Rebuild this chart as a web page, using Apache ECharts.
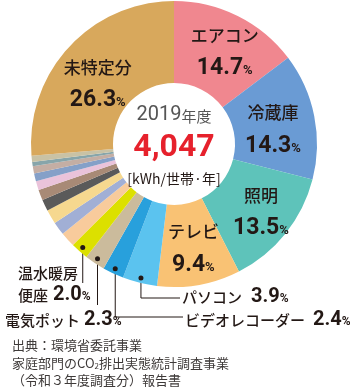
<!DOCTYPE html>
<html><head><meta charset="utf-8">
<script src="https://cdn.jsdelivr.net/npm/echarts@6/dist/echarts.min.js"></script>
<style>html,body{margin:0;padding:0;background:#fff}#c{width:350px;height:390px}</style>
</head><body><div id="c"></div>
<script>
// ---- data ----
const categories = ['エアコン','冷蔵庫','照明','テレビ','パソコン','ビデオレコーダー','電気ポット','温水暖房便座',
  'その他1','その他2','その他3','その他4','その他5','その他6','その他7','その他8','その他9','その他10','未特定分'];
const labelNames = ['エアコン','冷蔵庫','照明','テレビ','パソコン','ビデオレコーダー','電気ポット','温水暖房\n便座',
  '','','','','','','','','','','未特定分'];
const values = [14.7,14.3,13.5,9.4,3.9,2.4,2.3,2.0,1.7,1.5,1.6,1.3,1.2,1.0,0.9,0.8,0.5,0.7,26.3];
const totalYear = '2019';
const totalValue = '4,047';
const totalUnit = '[kWh/世帯·年]';
const sourceLines = ['出典：環境省委託事業','家庭部門のCO','排出実態統計調査事業','（令和３年度調査分）報告書'];

// ---- styles ----
const colors = ['#f0878f','#6a9bd4','#5ec3ba','#f9c274','#5bc3ef','#28a0dc','#cbbb9c','#dce000',
  '#f8cb9c','#a1afd5','#f6d88f','#5a5a5a','#a88a76','#eac3da','#85a0c8','#c4aea4','#87a5aa','#c9c2a5','#d8a85c'];
const JP = "'Noto Sans CJK JP', sans-serif";
const NUM = "Roboto, 'Noto Sans', sans-serif";
const INK = '#231815';
const CX = 174, CY = 144, R0 = 61, R1 = 143;
const insideIdx = [0,1,2,3,18];
const insideShift = {0:[4,2],1:[-4,6],2:[5,2],3:[1,1],18:[1,11]};
const leaders = {
  4: {lineY: 298, lineX: 180, lx: 182, ly: 297},
  5: {lineY: 317, lineX: 183, lx: 185, ly: 320},
  6: {lineY: 305, lx: 5, ly: 320},
  7: {lineY: 283, lx: 18, ly: 284}
};
const gaps = {4: 9, 5: 8, 6: 4, 7: 5};
const dots = {};

const chart = echarts.init(document.getElementById('c'), null, {renderer: 'canvas'});

const richInside = {
  n: {fontFamily: JP, fontSize: 17, fontWeight: 500, color: INK, lineHeight: 33},
  v: {fontFamily: NUM, fontSize: 23, fontWeight: 'bold', color: INK, lineHeight: 33},
  p: {fontFamily: NUM, fontSize: 13, fontWeight: 'bold', color: INK, lineHeight: 33, padding: [5,0,0,0]}
};
function richLeader(i) {
  return {
    n: {fontFamily: JP, fontSize: 15, fontWeight: 500, color: INK, lineHeight: 22},
    g: {width: gaps[i], lineHeight: 22},
    v: {fontFamily: NUM, fontSize: 20, fontWeight: 'bold', color: INK, lineHeight: 22},
    p: {fontFamily: NUM, fontSize: 12, fontWeight: 'bold', color: INK, lineHeight: 22, padding: [4,0,0,0]}
  };
}

const data = categories.map((name, i) => {
  const item = {name, value: values[i], itemStyle: {color: colors[i]}};
  if (insideIdx.includes(i)) {
    item.label = {show: true, position: 'inside', rich: richInside, align: 'center',
      formatter: () => `{n|${labelNames[i]}}\n{v|${values[i].toFixed(1)}}{p|%}`};
    item.labelLine = {show: false};
  } else if (leaders[i]) {
    const parts = labelNames[i].split('\n');
    const last = parts.pop();
    const head = parts.map(s => `{n|${s}}`).join('\n');
    item.label = {show: true, position: 'outside', rich: richLeader(i), align: 'left',
      formatter: () => (head ? head + '\n' : '') + `{n|${last}}{g|}{v|${values[i].toFixed(1)}}{p|%}`};
    item.labelLine = {show: true, length: 4, length2: 4, smooth: false, lineStyle: {color: INK, width: 1}};
  } else {
    item.label = {show: false};
    item.labelLine = {show: false};
  }
  return item;
});

function midPoint(i, r, p) {
  let ang = null;
  try {
    const lay = chart.getModel().getSeriesByIndex(0).getData().getItemLayout(i);
    ang = (lay.startAngle + lay.endAngle) / 2;
  } catch (e) {}
  if ((ang === null || isNaN(ang)) && p && p.labelLinePoints) {
    const q = p.labelLinePoints[0];
    ang = Math.atan2(q[1] - CY, q[0] - CX);
  }
  return [CX + r * Math.cos(ang), CY + r * Math.sin(ang)];
}

function labelLayout(p) {
  const i = p.dataIndex;
  if (insideShift[i]) return {dx: insideShift[i][0], dy: insideShift[i][1]};
  const L = leaders[i];
  if (!L) return {};
  const d = midPoint(i, 138, p);
  dots[i] = d;
  const end = L.lineX != null ? [L.lineX, L.lineY] : [d[0], L.lineY];
  return {x: L.lx, y: L.ly, align: 'left', verticalAlign: 'middle',
    labelLinePoints: [d, [d[0], L.lineY], end]};
}

const staticGraphics = [
  {id: 'center', type: 'text', x: CX, y: 146, z: 10,
    style: {text: `{y|${totalYear}}{k|年度}\n{v|${totalValue}}\n{u|${totalUnit}}`, align: 'center', verticalAlign: 'middle',
      rich: {
        y: {fontFamily: NUM, fontSize: 20, fill: '#555', lineHeight: 30},
        k: {fontFamily: JP, fontSize: 15, fill: '#555', lineHeight: 30, padding: [3,0,0,0]},
        v: {fontFamily: NUM, fontSize: 32, fontWeight: 'bold', fill: '#e6212c', lineHeight: 36},
        u: {fontFamily: JP, fontSize: 14, fill: INK, lineHeight: 27}
      }}},
  {id: 'source', type: 'text', left: 12, top: 339, z: 10,
    style: {text: `{t|${sourceLines[0]}}\n{t|${sourceLines[1]}}{s|2}{t|${sourceLines[2]}}\n{t|${sourceLines[3]}}`,
      rich: {
        t: {fontFamily: JP, fontSize: 13, fill: '#3e3a39', lineHeight: 17.5},
        s: {fontFamily: JP, fontSize: 8, fill: '#3e3a39', lineHeight: 17.5, padding: [6,0,0,0]}
      }}}
];

chart.setOption({
  animation: false,
  series: [{
    type: 'pie',
    center: [CX, CY],
    radius: [R0, R1],
    startAngle: 90,
    clockwise: true,
    avoidLabelOverlap: false,
    itemStyle: {borderWidth: 0},
    emphasis: {disabled: true},
    labelLayout: labelLayout,
    data: data
  }],
  graphic: {elements: staticGraphics}
});

// leader-line dots at the slice anchor points, added straight to the renderer
const Circle = echarts.graphic && echarts.graphic.Circle;
if (Circle) {
  Object.keys(dots).forEach(k => {
    chart.getZr().add(new Circle({shape: {cx: dots[k][0], cy: dots[k][1], r: 2.5}, style: {fill: INK}, z: 100}));
  });
}
</script>
</body></html>
